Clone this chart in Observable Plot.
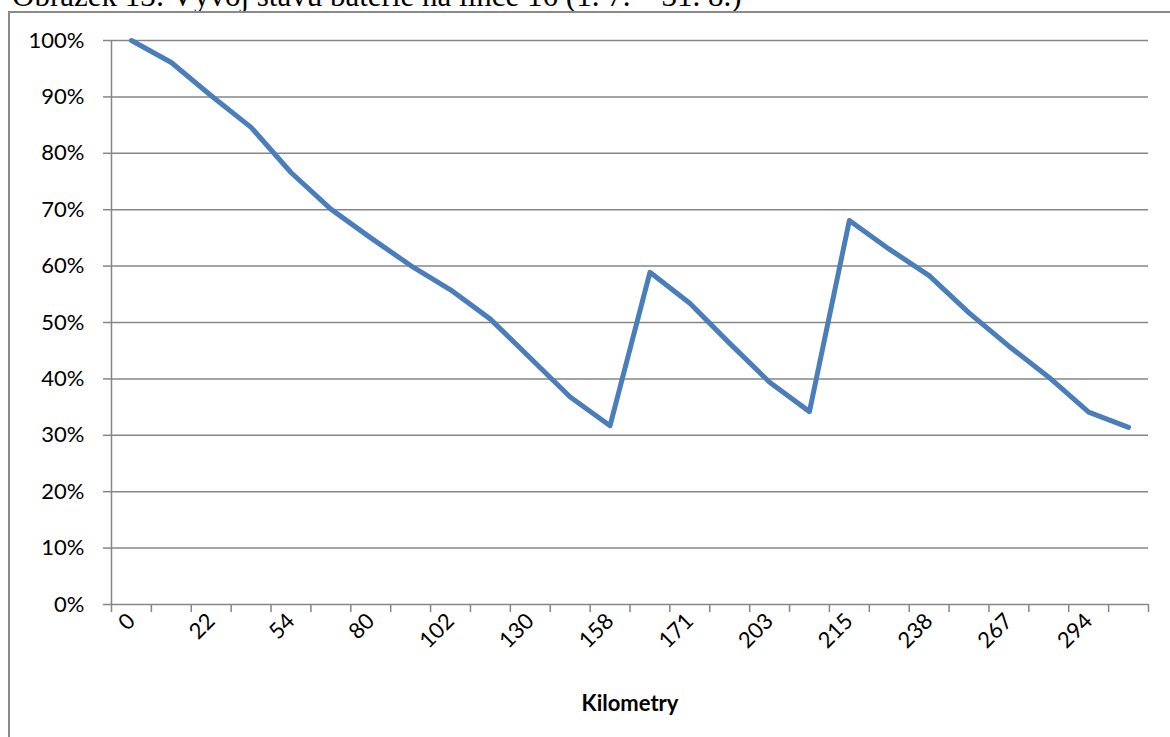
<!DOCTYPE html>
<html>
<head>
<meta charset="utf-8">
<script src="https://cdn.jsdelivr.net/npm/d3@7"></script>
<script src="https://cdn.jsdelivr.net/npm/@observablehq/plot@0.6"></script>
<style>
  body { margin: 0; background: #fff; }
  #page { position: relative; width: 1170px; height: 737px; overflow: hidden; background: #fff; }
  #caption {
    position: absolute; left: 12px; top: -20px;
    font-family: "Liberation Serif", "Times New Roman", serif;
    font-size: 31px; line-height: 31px; white-space: nowrap; color: #000;
  }
  #frame {
    position: absolute; left: 8px; top: 11px; width: 1300px; height: 900px;
    border: 2px solid #8a8a8a; box-sizing: border-box;
  }
  #chart { position: absolute; left: 0; top: 0; }
</style>
</head>
<body>
<div id="page">
  <div id="caption">Obrázek 13: Vývoj stavu baterie na lince 16 (1. 7. – 31. 8.)</div>
  <div id="frame"></div>
  <div id="chart"></div>
</div>
<script>
// Battery state of charge (%) at each of the 26 measuring stops along the route
const charge = [100, 96.1, 90.2, 84.6, 76.6, 70.1, 65.0, 60.1, 55.8, 50.6, 43.7, 36.8, 31.7,
                58.9, 53.4, 46.3, 39.4, 34.2, 68.1, 63.0, 58.3, 51.7, 45.8, 40.3, 34.1, 31.4];

// Kilometre labels, printed at every second stop
const kmLabels = ["0", "22", "54", "80", "102", "130", "158", "171", "203", "215", "238", "267", "294"];

// Percent ticks of the vertical axis
const yTicks = [0, 10, 20, 30, 40, 50, 60, 70, 80, 90, 100];

const axisTitle = "Kilometry";

const stops = d3.range(charge.length);
const data = stops.map(i => ({stop: i, charge: charge[i]}));
const labelStops = kmLabels.map((_, j) => j * 2);
const boundaries = d3.range(charge.length + 1).map(i => i - 0.5);

const gray = "#868686";

const chart = Plot.plot({
  width: 1170,
  height: 737,
  marginLeft: 111,
  marginRight: 22,
  marginTop: 40,
  marginBottom: 133,
  style: {fontFamily: "Lato, 'Open Sans', sans-serif", fontSize: "22px", background: "none", color: "#000"},
  x: {domain: [-0.5, charge.length - 0.5]},
  y: {domain: [0, 100]},
  marks: [
    Plot.gridY(yTicks, {stroke: gray, strokeOpacity: 1, strokeWidth: 1.5}),
    Plot.axisY(yTicks, {tickSize: 8, tickPadding: 19, tickFormat: d => d + "%", stroke: gray, strokeWidth: 1.5, label: null}),
    Plot.ruleX([-0.5], {stroke: gray, strokeWidth: 1.5}),
    Plot.axisX(boundaries, {tickSize: 8, tickFormat: () => "", stroke: gray, strokeWidth: 1.5, label: null}),
    Plot.axisX(labelStops, {tickSize: 0, tickPadding: 13, tickRotate: -45, tickFormat: i => kmLabels[i / 2], label: null}),
    Plot.line(data, {x: "stop", y: "charge", stroke: "#4a7ebb", strokeWidth: 5, strokeLinejoin: "round", strokeLinecap: "round"}),
    Plot.text([axisTitle], {frameAnchor: "bottom", dy: 106, fontWeight: "bold", fontSize: 22, fill: "#000"})
  ]
});

document.getElementById("chart").appendChild(chart);
</script>
</body>
</html>
